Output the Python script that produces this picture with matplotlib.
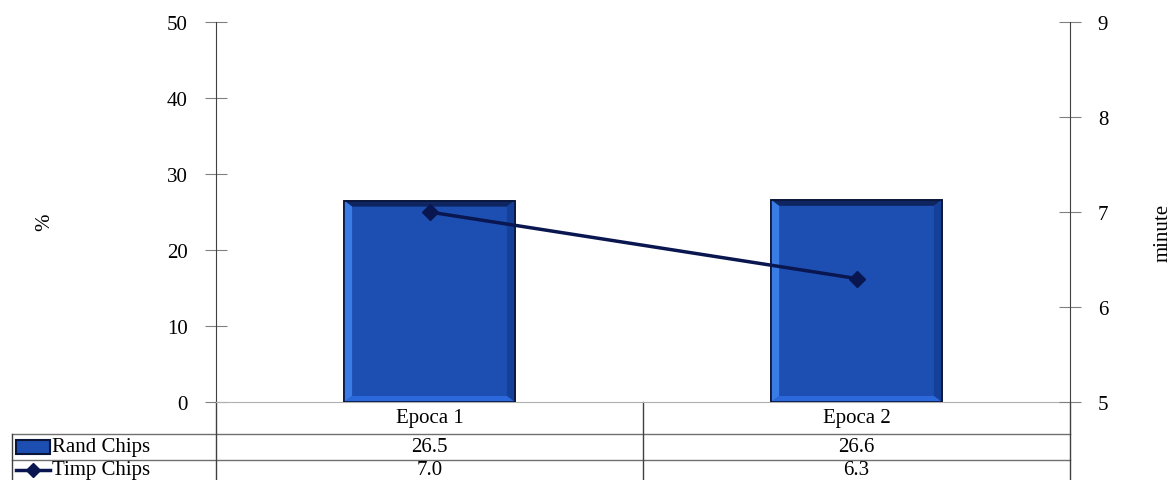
import numpy as np
import matplotlib
matplotlib.use("Agg")
import matplotlib.pyplot as plt
from matplotlib.patches import Polygon, Rectangle
from matplotlib.lines import Line2D
from matplotlib.transforms import blended_transform_factory

# Data
categories = ["Epoca 1", "Epoca 2"]
series_names = ["Rand Chips", "Timp Chips"]
rand_chips = [26.5, 26.6]   # %  (left axis)
timp_chips = [7.0, 6.3]     # minute (right axis)
left_ticks = [0, 10, 20, 30, 40, 50]
right_ticks = [5, 6, 7, 8, 9]

plt.rcParams["font.family"] = ["Liberation Serif", "DejaVu Serif"]

W, H = 1174, 481
fig = plt.figure(figsize=(W / 100, H / 100), dpi=100)
ax_left, ax_right, ax_bottom, ax_top = 216, 1070, 403, 23
ax = fig.add_axes([ax_left / W, 1 - ax_bottom / H,
                   (ax_right - ax_left) / W, (ax_bottom - ax_top) / H])
ax_wpx = ax_right - ax_left
ax_hpx = ax_bottom - ax_top

x = np.arange(len(categories))
ax.set_xlim(-0.5, len(categories) - 0.5)
ax.set_ylim(0, 50)

bar_face = "#1c4fb1"
bar_edge = "#0a1538"
bars = ax.bar(x, rand_chips, width=0.4, color=bar_face, edgecolor=bar_edge,
              linewidth=1.2, zorder=2)

# bevelled frame around each bar
dx = 8 * (len(categories)) / ax_wpx
dy = 6 * 50 / ax_hpx
for b in bars:
    x0, y0 = b.get_x(), b.get_y()
    x1, y1 = x0 + b.get_width(), y0 + b.get_height()
    faces = [
        ([(x0, y1), (x1, y1), (x1 - dx, y1 - dy), (x0 + dx, y1 - dy)], "#0e2561"),
        ([(x0, y0), (x0, y1), (x0 + dx, y1 - dy), (x0 + dx, y0 + dy)], "#3a7ce6"),
        ([(x1, y0), (x1, y1), (x1 - dx, y1 - dy), (x1 - dx, y0 + dy)], "#15409a"),
        ([(x0, y0), (x1, y0), (x1 - dx, y0 + dy), (x0 + dx, y0 + dy)], "#2b68dc"),
    ]
    for pts, col in faces:
        ax.add_patch(Polygon(pts, closed=True, facecolor=col, edgecolor="none",
                             zorder=3))
    ax.add_patch(Rectangle((x0, y0), x1 - x0, y1 - y0, fill=False,
                           edgecolor=bar_edge, linewidth=1.2, zorder=4))

ax.set_yticks(left_ticks)
ax.set_xticks([])
ax.tick_params(axis="y", direction="inout", length=16.5, width=0.8,
               color="#808080", labelsize=15, pad=12)
ax.spines["top"].set_visible(False)
ax.spines["right"].set_visible(False)
ax.spines["left"].set_color("#404040")
ax.spines["bottom"].set_color("#b0b0b0")

# Right axis: time
ax2 = ax.twinx()
ax2.set_ylim(5, 9)
ax2.set_yticks(right_ticks)
line_col = "#0a1650"
ax2.plot(x, timp_chips, color=line_col, linewidth=2.5, marker="D",
         markersize=8, zorder=5)
ax2.tick_params(axis="y", direction="inout", length=16, width=0.8,
                color="#808080", labelsize=15, pad=12)
for s in ("top", "left", "bottom"):
    ax2.spines[s].set_visible(False)
ax2.spines["right"].set_color("#404040")

# Axis titles
fig.text(45 / W, 1 - 222 / H, "%", rotation=90, ha="center", va="center",
         fontsize=15)
fig.text(1163 / W, 1 - 233 / H, "minute", rotation=90, ha="center",
         va="center", fontsize=15)

# Data table under the plot
def ay(py):
    return (ax_bottom - py) / ax_hpx

def axx(px):
    return (px - ax_left) / ax_wpx

tab_col = "#707070"
row_lines = [435, 461]
label_left = 12
bottom_px = 500
for py in row_lines:
    ax.add_line(Line2D([axx(label_left), 1], [ay(py), ay(py)], transform=ax.transAxes,
                       color=tab_col, linewidth=1.0, clip_on=False))
for xa in [0.0, 0.5, 1.0]:
    ax.add_line(Line2D([xa, xa], [0, ay(bottom_px)], transform=ax.transAxes,
                       color="#404040", linewidth=1.0, clip_on=False))
ax.add_line(Line2D([axx(label_left)] * 2, [ay(435), ay(bottom_px)],
                   transform=ax.transAxes, color="#404040", linewidth=1.0,
                   clip_on=False))

blend = blended_transform_factory(ax.transData, ax.transAxes)
for xi, cat in zip(x, categories):
    ax.text(xi, ay(419), cat, transform=blend, ha="center", va="center",
            fontsize=15)
for xi, v in zip(x, rand_chips):
    ax.text(xi, ay(448), f"{v:.1f}", transform=blend, ha="center",
            va="center", fontsize=15)
for xi, v in zip(x, timp_chips):
    ax.text(xi, ay(480.5), f"{v:.1f}", transform=blend, ha="center",
            va="bottom", fontsize=15)

# Row labels with their legend keys
ax.add_patch(Rectangle((axx(16), ay(455)), axx(50) - axx(16), ay(441) - ay(455),
                       transform=ax.transAxes, facecolor=bar_face,
                       edgecolor=bar_edge, linewidth=1.5, clip_on=False))
ax.add_line(Line2D([axx(16), axx(50)], [ay(471), ay(471)], transform=ax.transAxes,
                   color=line_col, linewidth=2.5, clip_on=False))
ax.add_line(Line2D([axx(33)], [ay(471)], transform=ax.transAxes, color=line_col,
                   marker="D", markersize=7, clip_on=False))
ax.text(axx(52), ay(448), series_names[0], transform=ax.transAxes,
        ha="left", va="center", fontsize=15)
ax.text(axx(52), ay(480.5), series_names[1], transform=ax.transAxes,
        ha="left", va="bottom", fontsize=15)

fig.savefig("out.png", dpi=100)
